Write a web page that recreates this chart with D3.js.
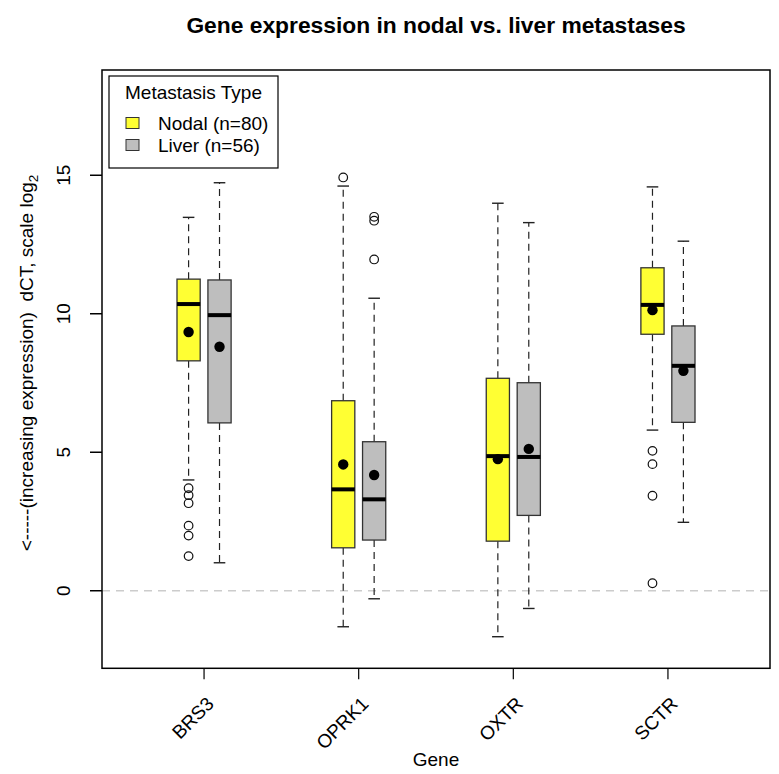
<!DOCTYPE html>
<html>
<head>
<meta charset="utf-8">
<script src="https://cdn.jsdelivr.net/npm/d3@7"></script>
<style>
  html, body { margin: 0; padding: 0; background: #fff; }
  svg text { font-family: "Liberation Sans", Arial, Helvetica, sans-serif; }
</style>
</head>
<body>
<svg id="chart" width="779" height="774"></svg>
<script>
// ---- Data ----
const genes = ["BRS3", "OPRK1", "OXTR", "SCTR"];
const groups = ["Nodal (n=80)", "Liver (n=56)"];
const groupColors = ["#ffff33", "#bebebe"];
const yTicks = [0, 5, 10, 15];

// per gene: [whiskerLow, Q1, median, Q3, whiskerHigh]
const nodalStats = [
  [4.00, 8.30, 10.35, 11.25, 13.48],
  [-1.30, 1.55, 3.66, 6.86, 14.61],
  [-1.66, 1.79, 4.86, 7.67, 13.99],
  [5.80, 9.26, 10.32, 11.66, 14.58]
];
const liverStats = [
  [1.01, 6.06, 9.95, 11.22, 14.73],
  [-0.29, 1.83, 3.30, 5.38, 10.56],
  [-0.64, 2.72, 4.83, 7.51, 13.29],
  [2.47, 6.08, 8.12, 9.56, 12.62]
];
const nodalMeans = [9.34, 4.56, 4.75, 10.13];
const liverMeans = [8.81, 4.18, 5.12, 7.94];
const nodalOutliers = [
  [3.70, 3.45, 3.16, 2.35, 1.99, 1.25],
  [14.92],
  [],
  [5.05, 4.57, 3.43, 0.27]
];
const liverOutliers = [
  [],
  [13.50, 13.36, 11.96],
  [],
  []
];

// ---- Layout ----
const svg = d3.select("#chart");
const plotL = 102, plotR = 770, plotT = 70, plotB = 668.3;
const x = d3.scaleLinear().domain([0.34, 4.66]).range([plotL, plotR]);
const y = d3.scaleLinear().domain([-2.8, 18.8]).range([plotB, plotT]);
const offset = 0.1, boxW = 0.15;

// reference line at 0
svg.append("line")
  .attr("x1", plotL).attr("x2", plotR)
  .attr("y1", y(0)).attr("y2", y(0))
  .attr("stroke", "#cccccc").attr("stroke-width", 1.5)
  .attr("stroke-dasharray", "8,6");

function drawGroup(stats, means, outliers, gi) {
  const sign = gi === 0 ? -1 : 1;
  stats.forEach((s, i) => {
    const cx = x(i + 1 + sign * offset);
    const hw = (x(boxW) - x(0)) / 2;
    const g = svg.append("g");
    // whiskers
    g.append("line").attr("x1", cx).attr("x2", cx)
      .attr("y1", y(s[3])).attr("y2", y(s[4]))
      .attr("stroke", "#222").attr("stroke-width", 1.2).attr("stroke-dasharray", "7,5");
    g.append("line").attr("x1", cx).attr("x2", cx)
      .attr("y1", y(s[1])).attr("y2", y(s[0]))
      .attr("stroke", "#222").attr("stroke-width", 1.2).attr("stroke-dasharray", "7,5");
    // caps
    [s[0], s[4]].forEach(v => {
      g.append("line").attr("x1", cx - hw / 2).attr("x2", cx + hw / 2)
        .attr("y1", y(v)).attr("y2", y(v))
        .attr("stroke", "#222").attr("stroke-width", 1.4);
    });
    // box
    g.append("rect").attr("x", cx - hw).attr("width", 2 * hw)
      .attr("y", y(s[3])).attr("height", y(s[1]) - y(s[3]))
      .attr("fill", groupColors[gi]).attr("stroke", "#333").attr("stroke-width", 1.3);
    // median
    g.append("line").attr("x1", cx - hw).attr("x2", cx + hw)
      .attr("y1", y(s[2])).attr("y2", y(s[2]))
      .attr("stroke", "#000").attr("stroke-width", 4);
    // outliers
    outliers[i].forEach(v => {
      g.append("circle").attr("cx", cx).attr("cy", y(v)).attr("r", 4.3)
        .attr("fill", "none").attr("stroke", "#111").attr("stroke-width", 1.2);
    });
    // mean
    g.append("circle").attr("cx", cx).attr("cy", y(means[i])).attr("r", 5.2)
      .attr("fill", "#000");
  });
}
drawGroup(nodalStats, nodalMeans, nodalOutliers, 0);
drawGroup(liverStats, liverMeans, liverOutliers, 1);

// frame
svg.append("rect").attr("x", plotL).attr("y", plotT)
  .attr("width", plotR - plotL).attr("height", plotB - plotT)
  .attr("fill", "none").attr("stroke", "#000").attr("stroke-width", 1.5);

// y axis
const yAxis = svg.append("g");
yTicks.forEach(t => {
  yAxis.append("line").attr("x1", plotL - 12).attr("x2", plotL)
    .attr("y1", y(t)).attr("y2", y(t)).attr("stroke", "#000").attr("stroke-width", 1.5);
  yAxis.append("text")
    .attr("transform", `translate(70,${y(t)}) rotate(-90)`)
    .attr("text-anchor", "middle").attr("font-size", 19).attr("fill", "#000")
    .text(t);
});

// x axis
const xAxis = svg.append("g");
genes.forEach((gname, i) => {
  const tx = x(i + 1);
  xAxis.append("line").attr("x1", tx).attr("x2", tx)
    .attr("y1", plotB).attr("y2", plotB + 11).attr("stroke", "#000").attr("stroke-width", 1.2);
  xAxis.append("text")
    .attr("transform", `translate(${tx + 11},705) rotate(-45)`)
    .attr("text-anchor", "end").attr("font-size", 19).attr("fill", "#000")
    .text(gname);
});

// axis titles
svg.append("text")
  .attr("x", (plotL + plotR) / 2).attr("y", 766)
  .attr("text-anchor", "middle").attr("font-size", 19).text("Gene");

const yl = svg.append("text")
  .attr("transform", `translate(33,363) rotate(-90)`)
  .attr("text-anchor", "middle").attr("font-size", 19);
yl.append("tspan").text("<-----(increasing expression)\u00a0\u00a0dCT, scale log");
yl.append("tspan").attr("font-size", 13.5).attr("dy", 5).text("2");

// title
svg.append("text")
  .attr("x", (plotL + plotR) / 2).attr("y", 33)
  .attr("text-anchor", "middle").attr("font-size", 22.8).attr("font-weight", "bold")
  .text("Gene expression in nodal vs. liver metastases");

// legend
const lg = svg.append("g");
lg.append("rect").attr("x", 109).attr("y", 76).attr("width", 169).attr("height", 92)
  .attr("fill", "#fff").attr("stroke", "#000").attr("stroke-width", 1.2);
lg.append("text").attr("x", 193.5).attr("y", 99).attr("text-anchor", "middle")
  .attr("font-size", 19).text("Metastasis Type");
groups.forEach((name, i) => {
  const cy = 123 + i * 22;
  lg.append("rect").attr("x", 126).attr("y", cy - 5.5).attr("width", 13).attr("height", 11)
    .attr("fill", groupColors[i]).attr("stroke", "#333").attr("stroke-width", 1);
  lg.append("text").attr("x", 158).attr("y", cy + 6.5)
    .attr("font-size", 19).text(name);
});
</script>
</body>
</html>
